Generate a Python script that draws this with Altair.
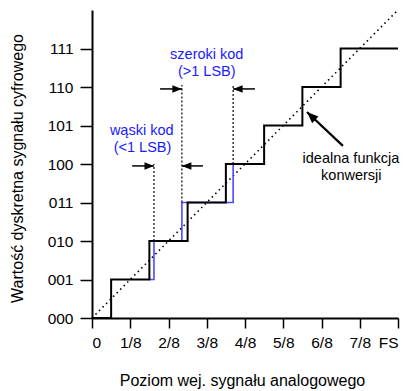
import altair as alt
import pandas as pd

# ---- data ----
x_tick_labels = ["0", "1/8", "2/8", "3/8", "4/8", "5/8", "6/8", "7/8", "FS"]
y_tick_labels = ["000", "001", "010", "011", "100", "101", "110", "111"]

ideal_x = [0, 0.5, 1.5, 2.5, 3.5, 4.5, 5.5, 6.5, 8]
ideal_code = [0, 1, 2, 3, 4, 5, 6, 7, 7]

actual_x = [1.5, 1.62, 2.35, 3.69, 4.5]
actual_code = [1, 2, 3, 4, 4]

diag_x = [0, 8]
diag_y = [0, 8]

edge_x = [1.62, 2.35, 3.69]
edge_y1 = [2, 3, 4]
edge_y2 = [4, 6.05, 6.05]

arrow_tail_x = [1.05, 2.90, 1.78, 4.26, 6.56]
arrow_tail_y = [3.95, 3.95, 5.95, 5.95, 4.47]
arrow_head_x = [1.62, 2.35, 2.35, 3.69, 5.62]
arrow_head_y = [3.95, 3.95, 5.95, 5.95, 5.35]
arrow_angle = [0, 180, 0, 180, 223]
arrow_kind = ["thin", "thin", "thin", "thin", "thick"]

label_text = ["szeroki kod", "(>1 LSB)", "wąski kod", "(<1 LSB)", "idealna funkcja", "konwersji"]
label_x = [3.0, 3.0, 1.30, 1.32, 6.77, 6.78]
label_y = [6.84, 6.39, 4.86, 4.42, 4.13, 3.68]
label_kind = ["blue", "blue", "blue", "blue", "black", "black"]

# ---- styling ----
FONT = "Liberation Sans, Arial"
BLUE_TEXT = "#1a1aff"
BLUE_LINE = "#4b4bff"

xscale = alt.Scale(domain=[0, 8], nice=False, zero=False)
yscale = alt.Scale(domain=[0, 8], nice=False, zero=False)

x_label_expr = "[" + ",".join(f"'{s}'" for s in x_tick_labels) + "][datum.value]"
y_label_expr = "[" + ",".join(f"'{s}'" for s in y_tick_labels) + "][datum.value]"

x_axis = alt.Axis(values=list(range(9)), labelExpr=x_label_expr, tickSize=10,
                  labelPadding=7, titleX=150, titleY=67, titleBaseline="alphabetic",
                  titleAnchor="middle", titleAlign="center")
y_axis = alt.Axis(values=list(range(8)), labelExpr=y_label_expr, tickSize=12,
                  labelPadding=7, titleX=-70, titleY=158, titleBaseline="alphabetic",
                  titleAngle=270, titleAlign="center")

XT = "Poziom wej. sygnału analogowego"
YT = "Wartość dyskretna sygnału cyfrowego"


def X(field):
    return alt.X(f"{field}:Q", scale=xscale, axis=x_axis, title=XT)


def Y(field):
    return alt.Y(f"{field}:Q", scale=yscale, axis=y_axis, title=YT)


ideal_df = pd.DataFrame({"x": ideal_x, "y": ideal_code})
actual_df = pd.DataFrame({"x": actual_x, "y": actual_code})
diag_df = pd.DataFrame({"x": diag_x, "y": diag_y})
edge_df = pd.DataFrame({"x": edge_x, "y": edge_y1, "y2": edge_y2})
arrow_df = pd.DataFrame({"x": arrow_tail_x, "y": arrow_tail_y, "x2": arrow_head_x,
                         "y2": arrow_head_y, "angle": arrow_angle, "kind": arrow_kind})
label_df = pd.DataFrame({"x": label_x, "y": label_y, "text": label_text, "kind": label_kind})

diag = alt.Chart(diag_df).mark_line(color="black", strokeWidth=1.6, strokeDash=[1.5, 3.5]).encode(
    x=X("x"), y=Y("y"))

actual = alt.Chart(actual_df).mark_line(color=BLUE_LINE, strokeWidth=1.6, interpolate="step-after").encode(
    x=X("x"), y=Y("y"))

ideal = alt.Chart(ideal_df).mark_line(color="black", strokeWidth=2, interpolate="step-after").encode(
    x=X("x"), y=Y("y"))

edges = alt.Chart(edge_df).mark_rule(color="black", strokeWidth=1.2, strokeDash=[2, 2]).encode(
    x=X("x"), y=Y("y"), y2="y2:Q")

thin = arrow_df[arrow_df.kind == "thin"]
thick = arrow_df[arrow_df.kind == "thick"]

arrow_lines_thin = alt.Chart(thin).mark_rule(color="black", strokeWidth=1.5).encode(
    x=X("x"), y=Y("y"), x2="x2:Q", y2="y2:Q")
arrow_lines_thick = alt.Chart(thick).mark_rule(color="black", strokeWidth=2.2).encode(
    x=X("x"), y=Y("y"), x2="x2:Q", y2="y2:Q")

head_shape = "M0,0L-2,-0.8L-2,0.8Z"
heads_thin = alt.Chart(thin).mark_point(shape=head_shape, filled=True, color="black",
                                        opacity=1, size=90, strokeWidth=0).encode(
    x=X("x2"), y=Y("y2"), angle=alt.Angle("angle:Q", scale=None))
heads_thick = alt.Chart(thick).mark_point(shape=head_shape, filled=True, color="black",
                                          opacity=1, size=130, strokeWidth=0).encode(
    x=X("x2"), y=Y("y2"), angle=alt.Angle("angle:Q", scale=None))

labels = alt.Chart(label_df).mark_text(font=FONT, fontSize=14.5, align="center",
                                       baseline="middle").encode(
    x=X("x"), y=Y("y"), text="text:N",
    color=alt.Color("kind:N", scale=alt.Scale(domain=["blue", "black"], range=[BLUE_TEXT, "black"]),
                    legend=None))

chart = alt.layer(diag, actual, ideal, edges, arrow_lines_thin, arrow_lines_thick,
                  heads_thin, heads_thick, labels).properties(
    width=306, height=308,
    autosize=alt.AutoSizeParams(type="none"),
    padding={"left": 92, "top": 10, "right": 12, "bottom": 73},
).configure_view(stroke=None).configure_axis(
    grid=False, domainColor="black", domainWidth=2, tickColor="black", tickWidth=1.5,
    labelColor="black", labelFont=FONT, labelFontSize=15.5,
    titleFont=FONT, titleFontSize=16, titleColor="black", titleFontWeight="normal",
)

chart.save("out.html", embed_options={"renderer": "svg", "actions": False})
